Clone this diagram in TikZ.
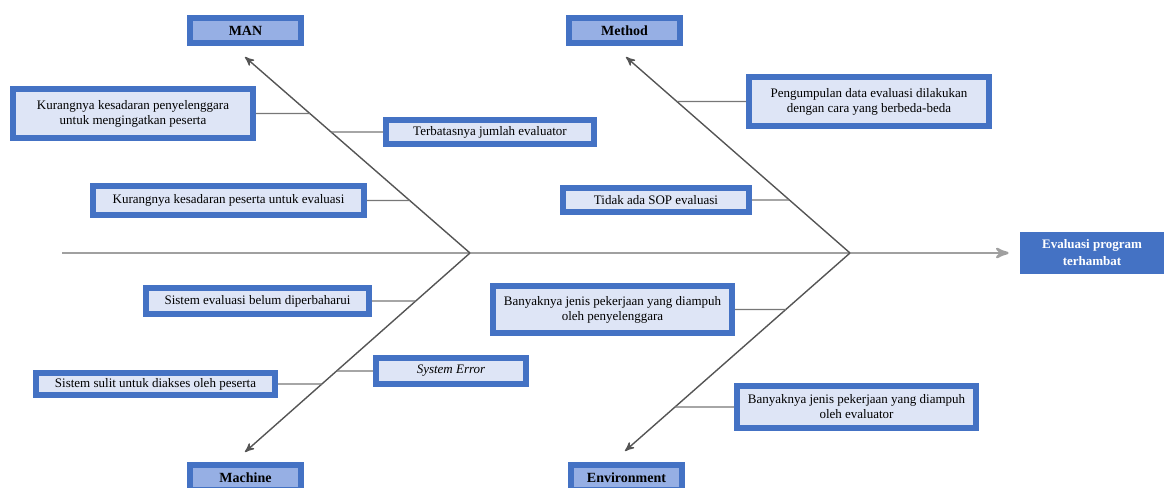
\documentclass[tikz,border=0pt]{standalone}
\usepackage{fontspec}
\setmainfont{Liberation Serif}
\definecolor{boxblue}{RGB}{68, 114, 196}
\definecolor{catfill}{RGB}{150, 175, 228}
\definecolor{causefill}{RGB}{222, 229, 246}
\definecolor{bonegray}{RGB}{85, 85, 85}
\definecolor{spinegray}{RGB}{160, 160, 160}
\usetikzlibrary{arrows}
\usetikzlibrary{calc}
\tikzset{
  dims/.style 2 args={minimum width={(#1-6)*0.5pt}, minimum height={(#2-6)*0.5pt}},
  causebox/.style={draw=boxblue, line width=3pt, fill=causefill, inner sep=0,
    align=center, font=\fontsize{6.5}{7.5}\selectfont},
  catbox/.style={causebox, fill=catfill, font=\fontsize{7}{8}\selectfont\bfseries},
  headbox/.style={fill=boxblue, inner sep=0, align=center, text=white,
    font=\fontsize{6.5}{8.5}\selectfont\bfseries},
  bone/.style={->,>=stealth', draw=bonegray, line width=0.7pt},
  twig/.style={draw=bonegray!80, line width=0.7pt},
  spine/.style={->,>=stealth', draw=spinegray, line width=1.2pt, shorten >=5.5pt}
}

\begin{document}
\begin{tikzpicture}[x=0.5pt, y=-0.5pt]
  \useasboundingbox (0,0) rectangle (1164,488);
  \clip (0,0) rectangle (1164,488);

  % categories and effect
  \node[catbox, dims={117}{31}] (man) at (245.5,30.5) {MAN};
  \node[catbox, dims={117}{31}] (method) at (624.5,30.5) {Method};
  \node[catbox, dims={117}{31}] (machine) at (245.5,477.5) {Machine};
  \node[catbox, dims={117}{31}] (environment) at (626.5,477.5) {Environment};
  \node[headbox, minimum width=72pt, minimum height=21pt] (effect) at (1092,253)
    {Evaluasi program\\terhambat};

  \coordinate (tail) at (62,253);
  \coordinate (junL) at (470,253);
  \coordinate (junR) at (850,253);
  \coordinate (manTip) at (245,57);
  \coordinate (methodTip) at (626,57);
  \coordinate (machineTip) at (245,452);
  \coordinate (envTip) at (625,451);

  \draw[spine] (tail) -- (effect);
  \draw[bone] (junL) -- (manTip);
  \draw[bone] (junL) -- (machineTip);
  \draw[bone] (junR) -- (methodTip);
  \draw[bone] (junR) -- (envTip);

  % causes
  \node[causebox, dims={246}{55}] (orgAware) at (133,113.5)
    {Kurangnya kesadaran penyelenggara\\untuk mengingatkan peserta};
  \node[causebox, dims={214}{30}] (fewEval) at (490,132)
    {Terbatasnya jumlah evaluator};
  \node[causebox, dims={277}{35}] (partAware) at (228.5,200.5)
    {Kurangnya kesadaran peserta untuk evaluasi};
  \node[causebox, dims={246}{55}] (dataWays) at (869,101.5)
    {Pengumpulan data evaluasi dilakukan\\dengan cara yang berbeda-beda};
  \node[causebox, dims={192}{30}] (noSop) at (656,200)
    {Tidak ada SOP evaluasi};
  \node[causebox, dims={229}{32}] (oldSys) at (257.5,301)
    {Sistem evaluasi belum diperbaharui};
  \node[causebox, dims={245}{28}] (hardSys) at (155.5,384)
    {Sistem sulit untuk diakses oleh peserta};
  \node[causebox, dims={156}{32}] (sysErr) at (451,371)
    {\itshape System Error};
  \node[causebox, dims={245}{53}] (orgJobs) at (612.5,309.5)
    {Banyaknya jenis pekerjaan yang diampuh\\oleh penyelenggara};
  \node[causebox, dims={245}{48}] (evalJobs) at (856.5,407)
    {Banyaknya jenis pekerjaan yang diampuh\\oleh evaluator};

  \draw[twig] (orgAware) -- (intersection of junL--manTip and orgAware.east--orgAware.west);
  \draw[twig] (fewEval) -- (intersection of junL--manTip and fewEval.east--fewEval.west);
  \draw[twig] (partAware) -- (intersection of junL--manTip and partAware.east--partAware.west);
  \draw[twig] (dataWays) -- (intersection of junR--methodTip and dataWays.east--dataWays.west);
  \draw[twig] (noSop) -- (intersection of junR--methodTip and noSop.east--noSop.west);
  \draw[twig] (oldSys) -- (intersection of junL--machineTip and oldSys.east--oldSys.west);
  \draw[twig] (hardSys) -- (intersection of junL--machineTip and hardSys.east--hardSys.west);
  \draw[twig] (sysErr) -- (intersection of junL--machineTip and sysErr.east--sysErr.west);
  \draw[twig] (orgJobs) -- (intersection of junR--envTip and orgJobs.east--orgJobs.west);
  \draw[twig] (evalJobs) -- (intersection of junR--envTip and evalJobs.east--evalJobs.west);
\end{tikzpicture}
\end{document}
